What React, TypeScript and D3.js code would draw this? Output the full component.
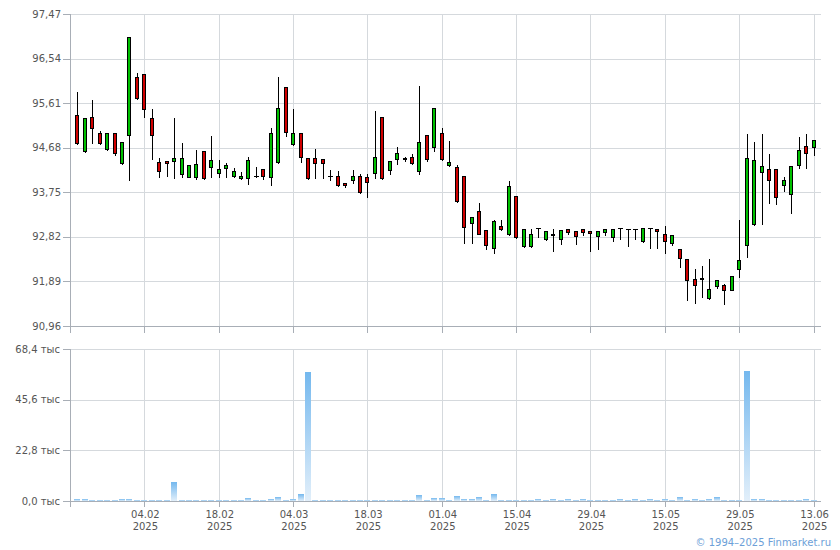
import React, { useEffect, useRef } from "react";
import * as d3 from "d3";

// daily candles, one per trading day (index 0..99)
const open = [
  95.36, 94.61, 95.32, 94.98, 94.65, 94.98, 94.36, 94.94, 96.15, 96.22,
  95.31, 94.38, 94.4, 94.4, 94.13, 94.07, 94.06, 94.61, 94.27, 94.15,
  94.25, 94.1, 94.04, 94.04, 94.1, 94.24, 94.06, 94.38, 95.94, 94.75,
  94.98, 94.46, 94.46, 94.45, 94.09, 94.08, 93.94, 94.0, 94.08, 94.06,
  94.16, 95.33, 94.21, 94.44, 94.46, 94.49, 94.19, 94.94, 94.69, 94.98,
  94.31, 94.27, 94.08, 93.1, 93.35, 92.96, 92.58, 93.05, 92.87, 93.67,
  92.62, 92.62, 93.0, 92.77, 92.89, 92.77, 92.98, 92.94, 92.98, 92.94,
  92.83, 92.92, 92.81, 93.0, 92.98, 92.98, 92.73, 93.0, 92.98, 92.89,
  92.69, 92.56, 92.35, 91.95, 91.96, 91.54, 91.79, 91.81, 91.72, 92.14,
  92.64, 93.08, 94.17, 94.23, 94.23, 93.9, 93.71, 94.31, 94.71, 94.69,
];
const high = [
  95.86, 95.3, 95.7, 95.05, 94.99, 94.99, 94.8, 96.99, 96.26, 96.23,
  95.5, 94.49, 94.42, 95.33, 94.79, 94.33, 94.65, 94.62, 94.94, 94.44,
  94.38, 94.28, 94.19, 94.5, 94.29, 94.25, 95.12, 96.18, 95.95, 95.5,
  94.99, 94.49, 94.67, 94.46, 94.24, 94.22, 93.97, 94.24, 94.15, 94.15,
  95.47, 95.34, 94.41, 94.71, 94.51, 94.56, 95.99, 94.95, 95.51, 95.11,
  94.84, 94.35, 94.09, 93.26, 93.54, 92.97, 93.19, 93.19, 94.01, 93.68,
  92.99, 93.0, 93.01, 92.95, 93.0, 92.97, 92.99, 92.96, 92.99, 92.96,
  92.95, 92.99, 92.99, 93.0, 92.98, 92.98, 93.01, 93.0, 92.99, 93.06,
  92.89, 92.57, 92.36, 92.16, 92.23, 92.37, 91.94, 91.85, 92.02, 93.19,
  94.98, 94.81, 94.98, 94.58, 94.24, 94.08, 94.3, 94.92, 94.98, 94.85,
];
const low = [
  94.76, 94.6, 94.78, 94.76, 94.64, 94.53, 94.35, 94.01, 95.7, 95.33,
  94.44, 94.06, 94.1, 94.04, 94.06, 94.06, 94.03, 94.03, 94.06, 94.06,
  94.06, 94.06, 94.03, 93.93, 94.06, 94.03, 93.91, 94.37, 94.93, 94.74,
  94.39, 94.02, 94.05, 94.05, 94.01, 93.89, 93.87, 93.94, 93.74, 93.65,
  94.05, 94.03, 94.13, 94.33, 94.4, 94.33, 94.13, 94.41, 94.61, 94.42,
  94.3, 93.55, 92.69, 92.69, 92.87, 92.56, 92.49, 92.97, 92.86, 92.8,
  92.61, 92.61, 92.81, 92.76, 92.52, 92.67, 92.87, 92.67, 92.85, 92.52,
  92.56, 92.85, 92.73, 92.77, 92.62, 92.78, 92.72, 92.58, 92.59, 92.49,
  92.64, 92.19, 91.51, 91.45, 91.57, 91.53, 91.75, 91.41, 91.71, 91.99,
  92.39, 93.07, 93.08, 93.52, 93.5, 93.77, 93.31, 94.25, 94.25, 94.52,
];
const close = [
  94.78, 95.29, 95.09, 94.77, 94.98, 94.56, 94.79, 96.98, 95.71, 95.48,
  94.94, 94.19, 94.36, 94.46, 94.46, 94.32, 94.33, 94.04, 94.42, 94.23,
  94.31, 94.19, 94.1, 94.42, 94.09, 94.1, 94.98, 95.5, 95.0, 94.98,
  94.49, 94.04, 94.36, 94.36, 94.08, 93.9, 93.9, 94.1, 93.75, 93.96,
  94.48, 94.04, 94.4, 94.56, 94.45, 94.36, 94.79, 94.44, 95.5, 94.45,
  94.38, 93.56, 93.02, 93.24, 92.89, 92.65, 93.15, 92.98, 93.88, 92.81,
  92.98, 92.89, 93.0, 92.94, 92.85, 92.96, 92.93, 92.83, 92.93, 92.9,
  92.94, 92.98, 92.98, 93.0, 92.98, 92.98, 93.0, 93.0, 92.94, 92.73,
  92.85, 92.37, 91.91, 91.81, 91.95, 91.73, 91.93, 91.71, 92.0, 92.33,
  94.46, 94.42, 94.29, 94.0, 93.65, 94.0, 94.29, 94.63, 94.56, 94.84,
];
// volume, thousands
const volume = [
  0.9, 0.9, 0.45, 0.45, 0.45, 0.45, 0.9, 0.9, 0.45, 0.45,
  0.45, 0.45, 0.45, 8.5, 0.45, 0.45, 0.45, 0.45, 0.45, 0.45,
  0.45, 0.45, 0.45, 1.35, 0.45, 0.45, 0.9, 1.9, 0.45, 0.9,
  3.15, 58.0, 0.45, 0.45, 0.45, 0.45, 0.45, 0.45, 0.45, 0.45,
  0.45, 0.45, 0.45, 0.45, 0.45, 0.45, 2.7, 0.45, 1.35, 1.35,
  0.45, 2.25, 0.9, 0.9, 1.8, 0.45, 3.15, 0.45, 0.45, 0.45,
  0.45, 0.45, 0.9, 0.45, 0.9, 0.45, 0.9, 0.45, 0.9, 0.45,
  0.45, 0.45, 0.45, 0.9, 0.45, 0.9, 0.45, 0.9, 0.45, 0.9,
  0.45, 1.8, 0.45, 0.9, 0.45, 0.9, 1.8, 0.45, 0.45, 0.45,
  58.5, 0.9, 0.9, 0.45, 0.45, 0.45, 0.45, 0.45, 0.9, 0.45,
];

const priceTicks = [90.96, 91.89, 92.82, 93.75, 94.68, 95.61, 96.54, 97.47];
const volumeTicks = [0, 22.8, 45.6, 68.4];
const dateTickIndex = [9, 19, 29, 39, 49, 59, 69, 79, 89, 99];
const dateTickLabels = [
  "04.02", "18.02", "04.03", "18.03", "01.04",
  "15.04", "29.04", "15.05", "29.05", "13.06",
];
const yearLabel = "2025";

const FONT = "'DejaVu Sans', Verdana, sans-serif";
const GRID = "#d5d9dd";
const AXIS = "#a8aeb6";
const TEXT = "#555";

export default function App() {
  const ref = useRef<SVGSVGElement>(null);

  useEffect(() => {
    const svg = d3.select(ref.current);
    svg.selectAll("*").remove();

    const width = 840;
    const height = 550;
    const left = 70;
    const right = 821;
    const pTop = 14;
    const pBottom = 326;
    const vTop = 349;
    const vBottom = 501;
    const n = open.length;

    svg.attr("width", width).attr("height", height);

    const x = d3.scaleLinear().domain([-1, n]).range([left, right]);
    const yP = d3
      .scaleLinear()
      .domain([priceTicks[0], priceTicks[priceTicks.length - 1]])
      .range([pBottom, pTop]);
    const yV = d3
      .scaleLinear()
      .domain([0, volumeTicks[volumeTicks.length - 1]])
      .range([vBottom, vTop]);

    const crisp = (v: number) => Math.round(v) + 0.5;
    const comma = (f: string) => (v: number) => d3.format(f)(v).replace(".", ",");

    const defs = svg.append("defs");
    const grad = defs
      .append("linearGradient")
      .attr("id", "volGrad")
      .attr("x1", 0)
      .attr("y1", 0)
      .attr("x2", 0)
      .attr("y2", 1);
    grad.append("stop").attr("offset", "0%").attr("stop-color", "#74b8ee");
    grad.append("stop").attr("offset", "100%").attr("stop-color", "#e2effa");

    const grid = svg.append("g").attr("shape-rendering", "crispEdges");

    // price panel grid
    priceTicks.forEach((t, i) => {
      const y = crisp(yP(t));
      if (i > 0) {
        grid.append("line").attr("x1", left).attr("x2", right).attr("y1", y).attr("y2", y).attr("stroke", GRID);
      }
      grid.append("line").attr("x1", left - 7).attr("x2", left).attr("y1", y).attr("y2", y).attr("stroke", AXIS);
    });
    // volume panel grid
    volumeTicks.forEach((t, i) => {
      const y = crisp(yV(t));
      if (i > 0) {
        grid.append("line").attr("x1", left).attr("x2", right).attr("y1", y).attr("y2", y).attr("stroke", GRID);
      }
      grid.append("line").attr("x1", left - 7).attr("x2", left).attr("y1", y).attr("y2", y).attr("stroke", AXIS);
    });
    // vertical grid + date ticks
    dateTickIndex.forEach((idx) => {
      const xx = crisp(x(idx));
      grid.append("line").attr("x1", xx).attr("x2", xx).attr("y1", pTop).attr("y2", pBottom).attr("stroke", GRID);
      grid.append("line").attr("x1", xx).attr("x2", xx).attr("y1", pBottom).attr("y2", pBottom + 7).attr("stroke", AXIS);
      grid.append("line").attr("x1", xx).attr("x2", xx).attr("y1", vTop).attr("y2", vBottom).attr("stroke", GRID);
      grid.append("line").attr("x1", xx).attr("x2", xx).attr("y1", vBottom).attr("y2", vBottom + 6).attr("stroke", AXIS);
    });
    // axis lines
    grid.append("line").attr("x1", left + 0.5).attr("x2", left + 0.5).attr("y1", pTop).attr("y2", pBottom + 7).attr("stroke", AXIS);
    grid.append("line").attr("x1", left).attr("x2", right).attr("y1", crisp(pBottom)).attr("y2", crisp(pBottom)).attr("stroke", AXIS);
    grid.append("line").attr("x1", left + 0.5).attr("x2", left + 0.5).attr("y1", vTop).attr("y2", vBottom + 6).attr("stroke", AXIS);
    grid.append("line").attr("x1", left).attr("x2", right).attr("y1", crisp(vBottom)).attr("y2", crisp(vBottom)).attr("stroke", AXIS);

    // labels
    const labels = svg.append("g").attr("font-family", FONT).attr("font-size", 10).attr("fill", TEXT);
    priceTicks.forEach((t) => {
      labels
        .append("text")
        .attr("x", left - 9)
        .attr("y", yP(t) + 3.5)
        .attr("text-anchor", "end")
        .text(comma(".2f")(t));
    });
    volumeTicks.forEach((t) => {
      labels
        .append("text")
        .attr("x", left - 10)
        .attr("y", yV(t) + 3.5)
        .attr("text-anchor", "end")
        .text(`${comma(".1f")(t)} тыс`);
    });
    dateTickIndex.forEach((idx, i) => {
      labels
        .append("text")
        .attr("x", x(idx) + 1)
        .attr("y", vBottom + 16.5)
        .attr("text-anchor", "middle")
        .text(dateTickLabels[i]);
      labels
        .append("text")
        .attr("x", x(idx) + 1)
        .attr("y", vBottom + 28.5)
        .attr("text-anchor", "middle")
        .text(yearLabel);
    });

    // volume bars
    const vol = svg.append("g").attr("shape-rendering", "crispEdges");
    volume.forEach((v, i) => {
      const cx = Math.round(x(i));
      const top = Math.min(Math.round(yV(v)), vBottom - 1);
      vol
        .append("rect")
        .attr("x", cx - 3)
        .attr("y", top)
        .attr("width", 6)
        .attr("height", vBottom - top)
        .attr("fill", "url(#volGrad)");
    });

    // candles
    const candles = svg.append("g").attr("shape-rendering", "crispEdges");
    open.forEach((o, i) => {
      const c = close[i];
      const cx = Math.round(x(i));
      const up = c >= o;
      candles
        .append("line")
        .attr("x1", cx + 0.5)
        .attr("x2", cx + 0.5)
        .attr("y1", crisp(yP(high[i])))
        .attr("y2", crisp(yP(low[i])))
        .attr("stroke", "#000");
      const yt = crisp(yP(Math.max(o, c)));
      const yb = crisp(yP(Math.min(o, c)));
      if (yb - yt < 1) {
        candles
          .append("line")
          .attr("x1", cx - 2)
          .attr("x2", cx + 3)
          .attr("y1", yt)
          .attr("y2", yt)
          .attr("stroke", "#000");
      } else {
        candles
          .append("rect")
          .attr("x", cx - 1.5)
          .attr("y", yt)
          .attr("width", 3)
          .attr("height", yb - yt)
          .attr("fill", up ? "#00c000" : "#d00000")
          .attr("stroke", "#000");
      }
    });

    svg
      .append("text")
      .attr("x", 831)
      .attr("y", 546)
      .attr("text-anchor", "end")
      .attr("font-family", FONT)
      .attr("font-size", 10)
      .attr("fill", "#6d9fd8")
      .text("© 1994–2025 Finmarket.ru");
  }, []);

  return (
    <svg
      ref={ref}
      style={{ position: "absolute", left: 0, top: 0, background: "#fff" }}
    ></svg>
  );
}
